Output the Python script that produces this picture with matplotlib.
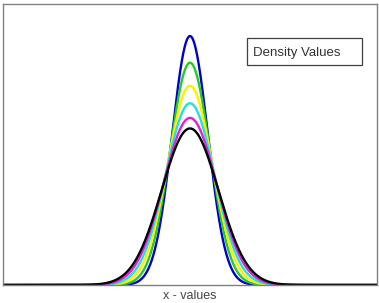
import numpy as np
import matplotlib
matplotlib.use("Agg")
import matplotlib.pyplot as plt
from matplotlib.patches import Rectangle

# Data: normal densities, common mean, increasing spread
means = [0.0, 0.0, 0.0, 0.0, 0.0, 0.0]
sigmas = [1.0, 1.12, 1.25, 1.37, 1.49, 1.59]
colors = ["#0000cc", "#22cc22", "#ffee00", "#22e0e0", "#e020e0", "#000000"]
x_min, x_max = -10.5, 10.5
label_text = "Density Values"
x_label = "x - values"

x = np.linspace(x_min, x_max, 2000)

fig = plt.figure(figsize=(3.79, 3.03), dpi=100)
ax = fig.add_axes([3/379, 1 - 285/303, 374/379, 281/303])

for mu, s, c in zip(means, sigmas, colors):
    y = np.exp(-0.5 * ((x - mu) / s) ** 2) / (s * np.sqrt(2 * np.pi))
    ax.plot(x, y, color=c, lw=1.7, solid_capstyle="round")

ax.set_xlim(x_min, x_max)
ax.set_ylim(0, 0.4503)
ax.set_xticks([])
ax.set_yticks([])
for sp in ax.spines.values():
    sp.set_color("#808080")
    sp.set_linewidth(1.0)

ax.add_patch(Rectangle((0.652, 0.783), 0.308, 0.096, transform=ax.transAxes,
                       facecolor="white", edgecolor="#404040", lw=0.9, zorder=5))
ax.text(0.668, 0.826, label_text, transform=ax.transAxes, ha="left", va="center",
        fontsize=9.5, family="Liberation Sans", color="#333333", zorder=6)

fig.text(190/379, 1 - 296/303, x_label, ha="center", va="center",
         fontsize=9, family="Liberation Sans", color="#444444")

fig.savefig("out.png", dpi=100)
